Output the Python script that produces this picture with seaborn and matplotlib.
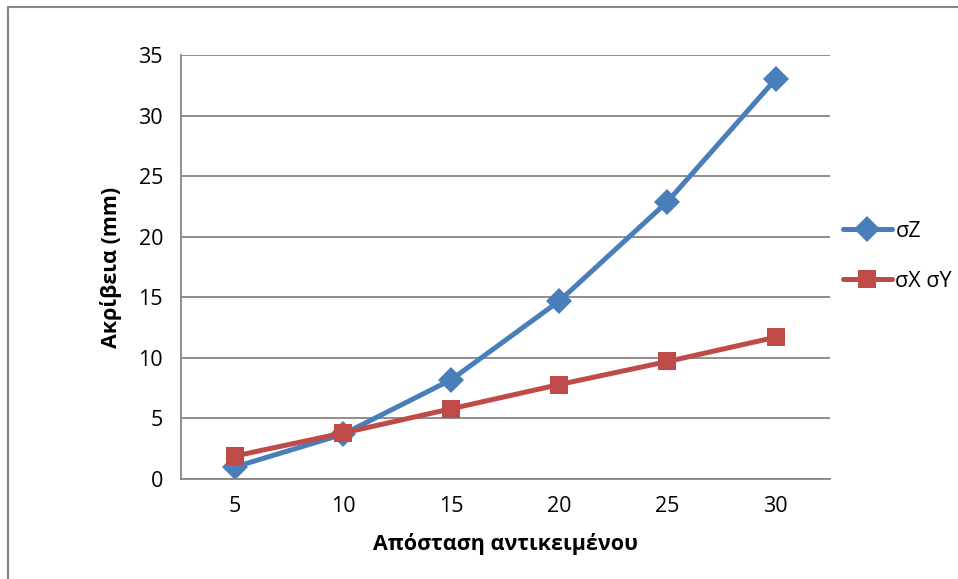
import pandas as pd
import matplotlib.pyplot as plt
import matplotlib.patches as patches
import seaborn as sns

distances = ["5", "10", "15", "20", "25", "30"]
sigma_z = [1.0, 3.7, 8.2, 14.7, 22.9, 33.0]
sigma_xy = [1.9, 3.8, 5.8, 7.8, 9.7, 11.7]
series_names = ["σZ", "σX σY"]

sns.set_style("white")
plt.rcParams["font.family"] = ["Open Sans", "Noto Sans", "DejaVu Sans"]
plt.rcParams["text.color"] = "black"
plt.rcParams["axes.labelcolor"] = "black"
plt.rcParams["xtick.labelcolor"] = "black"
plt.rcParams["ytick.labelcolor"] = "black"

df = pd.DataFrame({"Distance": distances * 2,
                   "Value": sigma_z + sigma_xy,
                   "Series": [series_names[0]] * 6 + [series_names[1]] * 6})

fig = plt.figure(figsize=(9.58, 5.79), dpi=100)
ax = fig.add_axes([0.189, 0.1727, 0.677, 0.7323])

grey = "#868686"
sns.lineplot(data=df, x="Distance", y="Value", hue="Series", style="Series",
             palette=["#4A7EBB", "#BE4B48"], markers=["D", "s"], dashes=False,
             markersize=13, linewidth=3.6, markeredgewidth=0, ax=ax, sort=False)

ax.set_ylim(0, 35)
ax.set_yticks(range(0, 36, 5))
ax.set_xlim(-0.5, 5.5)
ax.set_xticks([i - 0.5 for i in range(7)])
ax.set_xticklabels([])
ax.set_xticks(range(6), minor=True)
ax.set_xticklabels(distances, minor=True)
ax.tick_params(axis="x", which="minor", length=0, pad=12, labelsize=15.5)
ax.tick_params(axis="x", which="major", length=7, color=grey, width=1.3, direction="out")
ax.tick_params(axis="y", length=7, color=grey, width=1.3, labelsize=15.5, pad=6)
ax.yaxis.grid(True, color=grey, linewidth=1.3)
ax.set_axisbelow(True)
for side in ["top", "right"]:
    ax.spines[side].set_visible(False)
for side in ["left", "bottom"]:
    ax.spines[side].set_color(grey)
    ax.spines[side].set_linewidth(1.3)

ax.set_xlabel("Απόσταση αντικειμένου", fontsize=15.5, fontweight="bold", labelpad=12)
ax.set_ylabel("Ακρίβεια (mm)", fontsize=15.5, fontweight="bold", labelpad=12)

leg = ax.legend(loc="center left", bbox_to_anchor=(0.99, 0.525), frameon=False,
                fontsize=15.5, handlelength=2.3, handletextpad=0.15, labelspacing=1.35)

fig.patches.append(patches.Rectangle((8 / 958, -0.1), 1.1, 1 - 7 / 579 + 0.1,
                                     transform=fig.transFigure, fill=False,
                                     edgecolor=grey, linewidth=1.5))

fig.savefig("out.png", dpi=100)
